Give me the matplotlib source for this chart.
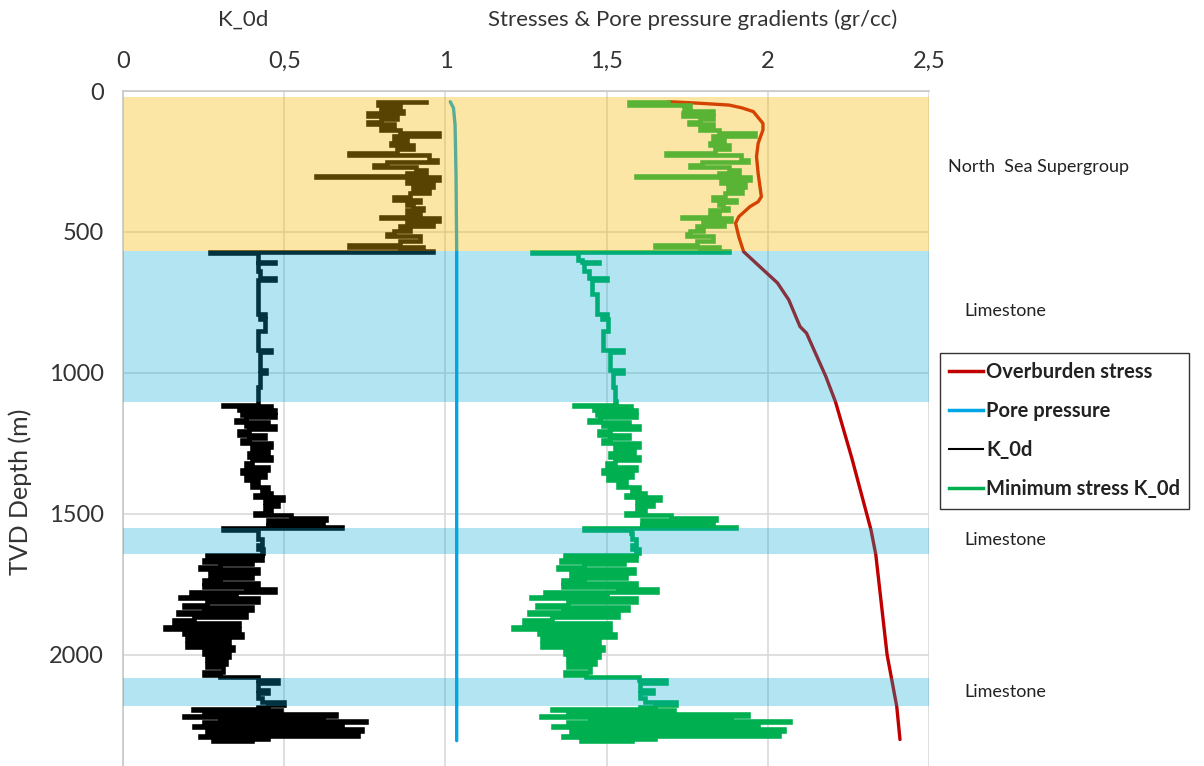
import numpy as np
import matplotlib
matplotlib.use("Agg")
import matplotlib.pyplot as plt
from matplotlib.lines import Line2D

plt.rcParams['font.family'] = ['Lato', 'DejaVu Sans']

# ---- data (depth in m TVD) ----
# K_0d log (dimensionless), same depths are used for the minimum stress log
k_depth = [38, 40, 50, 60, 70, 79, 90, 100, 109, 118, 127, 138, 150, 160, 174, 185, 192, 205,
           221, 228, 245, 252, 262, 270, 280, 290, 301, 305, 316, 325, 339, 350, 362, 375, 385,
           395, 404, 415, 422, 435, 446, 450, 460, 469, 480, 487, 497, 507, 515, 522, 532, 546,
           553, 560, 566, 570, 575,
           580, 600, 605, 612, 640, 664, 670, 720, 790, 800, 810, 850, 918, 925, 990, 1000, 1050, 1100,
           1107, 1113, 1118, 1125, 1131, 1140, 1149, 1158, 1167, 1175, 1182, 1190, 1200, 1208, 1220,
           1230, 1238, 1250, 1262, 1274, 1285, 1297, 1310, 1321, 1333, 1345, 1355, 1368, 1380, 1392,
           1405, 1416, 1427, 1435, 1440, 1450, 1460, 1474, 1486, 1498, 1505, 1516, 1522, 1534, 1540,
           1546, 1550, 1556,
           1570, 1590, 1610, 1625, 1640,
           1646, 1652, 1664, 1672, 1680, 1688, 1695, 1711, 1720, 1728, 1735, 1745, 1753, 1760, 1768,
           1776, 1785, 1794, 1800, 1812, 1824, 1830, 1840, 1848, 1856, 1866, 1878, 1886, 1894, 1902,
           1908, 1914, 1926, 1937, 1948, 1961, 1972, 1985, 1996, 2008, 2020, 2032, 2045, 2061, 2072,
           2079, 2085,
           2091, 2100, 2115, 2126, 2135, 2155, 2168, 2178, 2185,
           2192, 2198, 2204, 2210, 2216, 2222, 2228, 2234, 2240, 2246, 2252, 2258, 2263, 2270, 2275,
           2281, 2287, 2293, 2299, 2305]

k_0d = [0.94, 0.79, 0.86, 0.80, 0.87, 0.76, 0.85, 0.80, 0.76, 0.84, 0.80, 0.86, 0.98, 0.84, 0.88,
        0.83, 0.90, 0.85, 0.70, 0.95, 0.975, 0.82, 0.78, 0.91, 0.94, 0.88, 0.60, 0.98, 0.88, 0.96,
        0.90, 0.95, 0.89, 0.84, 0.92, 0.88, 0.90, 0.93, 0.88, 0.92, 0.80, 0.98, 0.88, 0.96, 0.86,
        0.89, 0.84, 0.82, 0.92, 0.92, 0.86, 0.70, 0.93, 0.86, 0.96, 0.27, 0.42,
        0.42, 0.42, 0.47, 0.42, 0.425, 0.47, 0.42, 0.42, 0.44, 0.425, 0.44, 0.42, 0.46, 0.425, 0.445,
        0.425, 0.42, 0.42,
        0.42, 0.31, 0.46, 0.36, 0.47, 0.37, 0.47, 0.38, 0.35, 0.45, 0.38, 0.47, 0.39, 0.36, 0.44,
        0.39, 0.37, 0.46, 0.40, 0.45, 0.39, 0.46, 0.40, 0.38, 0.45, 0.37, 0.44, 0.38, 0.42, 0.40,
        0.45, 0.43, 0.46, 0.41, 0.495, 0.44, 0.48, 0.44, 0.46, 0.41, 0.52, 0.63, 0.45, 0.62, 0.45,
        0.68, 0.31, 0.42,
        0.42, 0.43, 0.42, 0.435, 0.43,
        0.26, 0.43, 0.25, 0.40, 0.30, 0.24, 0.42, 0.27, 0.40, 0.30, 0.25, 0.42, 0.25, 0.38, 0.47,
        0.21, 0.35, 0.176, 0.42, 0.26, 0.19, 0.40, 0.25, 0.17, 0.38, 0.22, 0.157, 0.36, 0.24, 0.13,
        0.36, 0.19, 0.37, 0.20, 0.33, 0.20, 0.34, 0.25, 0.33, 0.26, 0.32, 0.26, 0.31, 0.25, 0.30,
        0.42, 0.42,
        0.48, 0.42, 0.42, 0.45, 0.42, 0.43, 0.50, 0.45, 0.42,
        0.217, 0.49, 0.25, 0.66, 0.19, 0.62, 0.30, 0.754, 0.25, 0.68, 0.22, 0.60, 0.74, 0.26, 0.66,
        0.73, 0.24, 0.45, 0.28, 0.40]

# minimum stress gradient (gr/cc), same depths as k_depth
min_stress = [1.69, 1.57, 1.76, 1.74, 1.83, 1.737, 1.83, 1.79, 1.756, 1.83, 1.79, 1.85, 1.96, 1.83,
              1.865, 1.82, 1.88, 1.835, 1.685, 1.918, 1.94, 1.797, 1.76, 1.88, 1.91, 1.85, 1.59,
              1.945, 1.855, 1.93, 1.875, 1.92, 1.868, 1.83, 1.90, 1.85, 1.86, 1.876, 1.82, 1.85,
              1.734, 1.887, 1.80, 1.865, 1.78, 1.80, 1.76, 1.75, 1.83, 1.83, 1.78, 1.65, 1.85, 1.79,
              1.88, 1.27, 1.41,
              1.41, 1.425, 1.475, 1.43, 1.445, 1.50, 1.455, 1.47, 1.50, 1.485, 1.505, 1.49, 1.55,
              1.51, 1.55, 1.52, 1.525, 1.53,
              1.53, 1.40, 1.575, 1.46, 1.59, 1.47, 1.59, 1.48, 1.445, 1.57, 1.49, 1.60, 1.51, 1.475,
              1.57, 1.51, 1.49, 1.60, 1.525, 1.585, 1.51, 1.60, 1.525, 1.50, 1.59, 1.49, 1.58, 1.505,
              1.56, 1.535, 1.60, 1.58, 1.62, 1.56, 1.665, 1.595, 1.645, 1.595, 1.62, 1.56, 1.70,
              1.84, 1.61, 1.83, 1.61, 1.90, 1.43, 1.575,
              1.58, 1.59, 1.58, 1.60, 1.59,
              1.37, 1.59, 1.36, 1.555, 1.43, 1.35, 1.585, 1.39, 1.56, 1.43, 1.365, 1.59, 1.365,
              1.535, 1.655, 1.31, 1.50, 1.265, 1.59, 1.38, 1.285, 1.565, 1.365, 1.26, 1.535, 1.33,
              1.245, 1.51, 1.355, 1.21, 1.51, 1.29, 1.525, 1.30, 1.475, 1.30, 1.49, 1.37, 1.475,
              1.38, 1.465, 1.38, 1.45, 1.37, 1.435, 1.60, 1.60,
              1.685, 1.605, 1.605, 1.645, 1.605, 1.62, 1.715, 1.65, 1.605,
              1.33, 1.71, 1.38, 1.94, 1.295, 1.885, 1.45, 2.07, 1.38, 1.97, 1.335, 1.86, 2.05, 1.39,
              1.94, 2.035, 1.365, 1.65, 1.42, 1.58]

# overburden stress gradient (gr/cc)
ob_depth = [38, 41, 45, 50, 60, 73, 115, 138, 186, 233, 292, 375, 393, 410, 446, 469, 517, 570,
            623, 681, 741, 836, 859, 1013, 1103, 1300, 1557, 1645, 2000, 2184, 2301]
overburden = [1.69, 1.75, 1.81, 1.88, 1.92, 1.955, 1.985, 1.985, 1.97, 1.965, 1.97, 1.98, 1.97,
              1.945, 1.91, 1.90, 1.91, 1.925, 1.975, 2.03, 2.065, 2.10, 2.12, 2.18, 2.21, 2.26,
              2.32, 2.335, 2.37, 2.40, 2.41]

# pore pressure gradient (gr/cc)
pp_depth = [38, 60, 120, 300, 570, 2305]
pore_pressure = [1.015, 1.025, 1.03, 1.033, 1.035, 1.035]

# formation intervals (top, base, kind) and their labels (text, depth)
zones = [(22, 567, 'orange'), (567, 1103, 'blue'), (1550, 1642, 'blue'), (2082, 2181, 'blue')]
zone_labels = [("North  Sea Supergroup", 270), ("Limestone", 780), ("Limestone", 1592),
               ("Limestone", 2131)]

x_ticks = [0, 0.5, 1, 1.5, 2, 2.5]
x_ticklabels = ["0", "0,5", "1", "1,5", "2", "2,5"]
y_ticks = [0, 500, 1000, 1500, 2000]

# ---- figure ----
W, H = 1204, 766
fig = plt.figure(figsize=(W / 100, H / 100), dpi=100)
ax = fig.add_axes([123 / W, 0, (929 - 123) / W, 1 - 91 / H])

c_red, c_pp, c_k, c_green = '#C00000', '#00A6E6', '#000000', '#00B050'
ax.plot(overburden, ob_depth, color=c_red, lw=2.4, zorder=3, solid_capstyle='round')
ax.plot(pore_pressure, pp_depth, color=c_pp, lw=2.4, zorder=3, solid_capstyle='round')
ax.plot(k_0d, k_depth, color=c_k, lw=3.3, zorder=3, drawstyle='steps-pre',
        solid_joinstyle='miter')
ax.plot(min_stress, k_depth, color=c_green, lw=3.3, zorder=3, drawstyle='steps-pre',
        solid_joinstyle='miter')

# translucent interval shading drawn over the logs (as in the source chart)
band_style = {'orange': ((249 / 255, 188 / 255, 8 / 255), 0.36),
              'blue': ((2 / 255, 168 / 255, 212 / 255), 0.30)}
for top, base, kind in zones:
    col, a = band_style[kind]
    ax.axhspan(top, base, color=col, alpha=a, lw=0, zorder=4)

ax.set_xlim(0, 2.5)
ax.set_ylim(2395, 0)
ax.set_xticks(x_ticks)
ax.set_xticklabels(x_ticklabels)
ax.set_yticks(y_ticks)
ax.xaxis.tick_top()
ax.tick_params(axis='both', length=0, labelsize=17, colors='#333333')
ax.tick_params(axis='x', pad=14)
ax.tick_params(axis='y', pad=14)
ax.grid(True, color='#d6d6d6', lw=1.1, zorder=0)
ax.set_axisbelow(True)
for s in ['bottom', 'right']:
    ax.spines[s].set_visible(False)
for s in ['top', 'left']:
    ax.spines[s].set_color('#c8c8c8')
    ax.spines[s].set_linewidth(1.2)

fig.text(243 / W, 1 - 20 / H, "K_0d", ha='center', va='center', fontsize=16, color='#333333')
fig.text(693 / W, 1 - 20 / H, "Stresses & Pore pressure gradients (gr/cc)", ha='center',
         va='center', fontsize=16, color='#333333')
fig.text(20 / W, 1 - 492 / H, "TVD Depth (m)", rotation=90, ha='center', va='center',
         fontsize=18, color='#333333')

for txt, d in zone_labels:
    ax.text(2.56 if txt.startswith("North") else 2.61, d, txt, fontsize=13, va='center',
            ha='left', color='#222222', clip_on=False)

handles = [Line2D([], [], color=c_red, lw=2.5), Line2D([], [], color=c_pp, lw=2.5),
           Line2D([], [], color=c_k, lw=1.5), Line2D([], [], color=c_green, lw=2.5)]
labels = ["Overburden stress", "Pore pressure", "K_0d", "Minimum stress K_0d"]
leg = fig.legend(handles, labels, loc='upper left', bbox_to_anchor=(940 / W, 1 - 353 / H),
                 frameon=True, fancybox=False, handlelength=1.7,
                 handletextpad=0.15, labelspacing=0.95, borderpad=0.45, borderaxespad=0,
                 prop={'weight': 'bold', 'size': 14.5})
leg.get_frame().set_edgecolor('black')
leg.get_frame().set_linewidth(1.0)
for t in leg.get_texts():
    t.set_color('#222222')

fig.savefig("out.png", dpi=100)
